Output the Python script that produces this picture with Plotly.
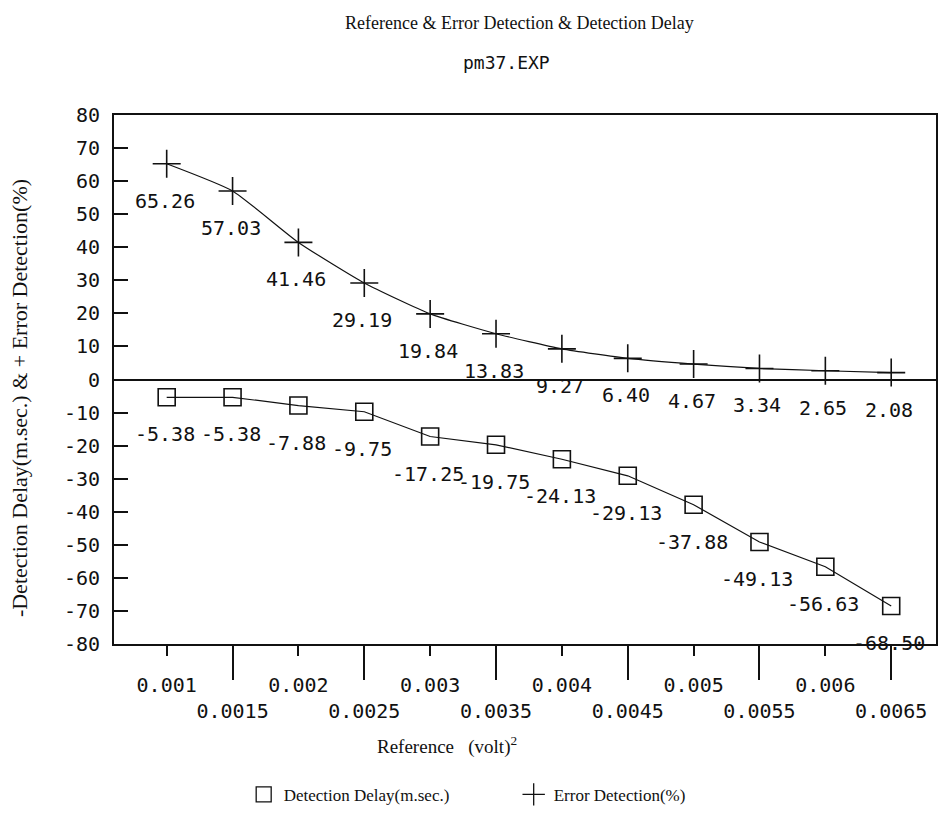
import plotly.graph_objects as go

# Reference level (volt^2)
reference = [0.001, 0.0015, 0.002, 0.0025, 0.003, 0.0035,
             0.004, 0.0045, 0.005, 0.0055, 0.006, 0.0065]
# Error detection (%)
error_detection = [65.26, 57.03, 41.46, 29.19, 19.84, 13.83,
                   9.27, 6.40, 4.67, 3.34, 2.65, 2.08]
# Detection delay (m.sec.), plotted as negative values
detection_delay = [-5.38, -5.38, -7.88, -9.75, -17.25, -19.75,
                   -24.13, -29.13, -37.88, -49.13, -56.63, -68.50]

# Axis ticks
x_major = [0.001, 0.002, 0.003, 0.004, 0.005, 0.006]
x_major_text = ["0.001", "0.002", "0.003", "0.004", "0.005", "0.006"]
x_minor = [0.0015, 0.0025, 0.0035, 0.0045, 0.0055, 0.0065]
x_minor_text = ["0.0015", "0.0025", "0.0035", "0.0045", "0.0055", "0.0065"]
y_ticks = list(range(-80, 81, 10))
y_ticktext = [str(v) for v in y_ticks]

W, H = 939, 814
L, R, T, B = 114, 1, 115, 166
X_RANGE = [0.0006, 0.00684]
Y_RANGE = [-80, 80]

MONO = "DejaVu Sans Mono"
SERIF = "Liberation Serif"
INK = "#111111"


def px_x(px):
    return (px - L) / (W - L - R)


def px_y(py):
    return (H - B - py) / (H - T - B)


fig = go.Figure()

fig.add_trace(go.Scatter(
    x=reference, y=detection_delay, mode="lines+markers",
    line=dict(color=INK, width=1.2),
    marker=dict(symbol="square-open", size=17, color=INK, line=dict(width=1.6)),
    showlegend=False,
))
fig.add_trace(go.Scatter(
    x=reference, y=error_detection, mode="lines+markers",
    line=dict(color=INK, width=1.2, shape="spline", smoothing=0.5),
    marker=dict(symbol="cross-thin-open", size=20, color=INK, line=dict(width=1.6, color=INK)),
    showlegend=False,
))
# carrier for the half-step tick axis (nothing visible)
fig.add_trace(go.Scatter(
    x=x_minor, y=[None] * len(x_minor), xaxis="x2", yaxis="y",
    mode="markers", showlegend=False, hoverinfo="skip",
))

# legend entries (marker only)
fig.add_trace(go.Scatter(
    x=[None], y=[None], mode="markers", name="Detection Delay(m.sec.)",
    marker=dict(symbol="square-open", size=15, color=INK, line=dict(width=1.3)),
))
fig.add_trace(go.Scatter(
    x=[None], y=[None], mode="markers", name="Error Detection(%)",
    marker=dict(symbol="cross-thin-open", size=17, color=INK, line=dict(width=1.3, color=INK)),
))

# value labels under each point
annotations = []
for xs, ys in ((reference, error_detection), (reference, detection_delay)):
    for xv, yv in zip(xs, ys):
        annotations.append(dict(
            x=xv, y=yv, xref="x", yref="y", text=f"{yv:.2f}",
            showarrow=False, xshift=-2, yshift=-37,
            font=dict(family=MONO, size=20, color=INK),
        ))

annotations += [
    dict(x=px_x(520), y=px_y(22), xref="paper", yref="paper",
         xanchor="center", yanchor="middle",
         text="Reference &amp; Error Detection &amp; Detection Delay",
         showarrow=False, font=dict(family=SERIF, size=18, color=INK)),
    dict(x=px_x(507), y=px_y(62), xref="paper", yref="paper",
         xanchor="center", yanchor="middle", text="pm37.EXP",
         showarrow=False, font=dict(family=MONO, size=18, color=INK)),
    dict(x=px_x(448), y=px_y(750), xref="paper", yref="paper",
         xanchor="center", yanchor="middle",
         text="Reference&nbsp;&nbsp;&nbsp;(volt)<sup>2</sup>",
         showarrow=False, font=dict(family=SERIF, size=19, color=INK)),
    dict(x=px_x(20), y=px_y(400), xref="paper", yref="paper", textangle=-90,
         xanchor="center", yanchor="middle",
         text="-Detection Delay(m.sec.) &amp; + Error Detection(%)",
         showarrow=False, font=dict(family=SERIF, size=22, color=INK)),
]

fig.update_layout(
    width=W, height=H,
    margin=dict(l=L, r=R, t=T, b=B),
    paper_bgcolor="white", plot_bgcolor="white",
    showlegend=True,
    legend=dict(orientation="h", x=px_x(244), y=px_y(800), xanchor="left", yanchor="middle",
                font=dict(family=SERIF, size=17, color=INK),
                entrywidth=225, entrywidthmode="pixels", bgcolor="rgba(0,0,0,0)"),
    annotations=annotations,
    xaxis=dict(
        range=X_RANGE, tickmode="array", tickvals=x_major, ticktext=x_major_text,
        ticks="outside", ticklen=10, tickwidth=1.5, tickcolor=INK,
        ticklabelstandoff=12,
        showline=True, linewidth=2, linecolor=INK, mirror=True,
        showgrid=False, zeroline=False,
        tickfont=dict(family=MONO, size=20, color=INK),
    ),
    xaxis2=dict(
        range=X_RANGE, overlaying="x", anchor="y", side="bottom",
        tickmode="array", tickvals=x_minor, ticktext=x_minor_text,
        ticks="outside", ticklen=35, tickwidth=1.8, tickcolor=INK,
        ticklabelstandoff=14,
        showline=False, showgrid=False, zeroline=False,
        tickfont=dict(family=MONO, size=20, color=INK),
    ),
    yaxis=dict(
        range=Y_RANGE, tickmode="array", tickvals=y_ticks, ticktext=y_ticktext,
        ticks="inside", ticklen=14, tickwidth=1.5, tickcolor=INK,
        ticklabelstandoff=8,
        showline=True, linewidth=2, linecolor=INK, mirror=True,
        showgrid=False, zeroline=True, zerolinecolor=INK, zerolinewidth=1.5,
        tickfont=dict(family=MONO, size=20, color=INK),
    ),
)

fig.write_html("out.html")
